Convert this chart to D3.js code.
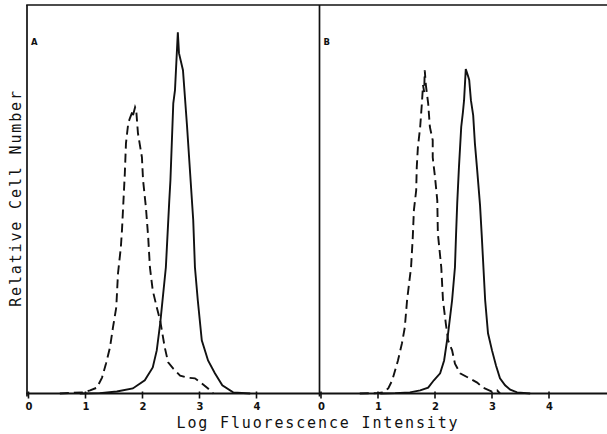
<!DOCTYPE html>
<html>
<head>
<meta charset="utf-8">
<script src="https://cdn.jsdelivr.net/npm/d3@7"></script>
<style>
  body { margin: 0; background: #fff; }
  svg { display: block; }
  .axis-label { font-family: 'DejaVu Sans Mono', monospace; font-size: 15px; letter-spacing: 1.85px; fill: #111; }
  .tick-label { font-family: 'DejaVu Sans', sans-serif; font-size: 10px; font-weight: bold; fill: #111; }
  .panel-label { font-family: 'DejaVu Sans', sans-serif; font-size: 8.5px; font-weight: bold; fill: #111; }
</style>
</head>
<body>
<svg width="607" height="434"></svg>
<script>
// log fluorescence (decades) vs relative cell number (% of full scale)
const panelA_control = [
  [0.55,0],[0.96,0.3],[1.08,0.8],[1.20,1.5],[1.29,4.1],[1.36,7.7],[1.43,11.9],[1.48,16.8],
  [1.54,22.2],[1.57,30.9],[1.62,37.6],[1.64,42.0],[1.66,47.9],[1.69,56.7],[1.71,64.4],
  [1.75,69.6],[1.78,70.9],[1.82,72.4],[1.83,71.4],[1.87,73.7],[1.89,72.9],[1.92,67.0],
  [1.99,60.8],[2.01,54.9],[2.06,47.9],[2.10,40.2],[2.13,32.5],[2.18,26.5],[2.25,22.2],
  [2.31,18.8],[2.39,11.9],[2.45,8.0],[2.54,6.4],[2.66,4.6],[2.78,4.1],[2.92,3.9],
  [3.04,2.6],[3.15,1.3],[3.24,0]
];
const panelA_stained = [
  [0.90,0],[1.25,0.1],[1.55,0.5],[1.83,1.3],[2.04,3.4],[2.18,6.7],[2.25,11.1],[2.31,18.0],
  [2.41,32.5],[2.47,49.7],[2.49,54.9],[2.54,74.7],[2.57,78.1],[2.62,93.0],[2.64,87.6],
  [2.71,83.2],[2.78,69.1],[2.89,44.6],[2.92,32.5],[2.97,24.0],[3.04,13.7],[3.15,8.5],
  [3.27,5.2],[3.40,2.1],[3.59,0.3],[3.89,0]
];
const panelB_control = [
  [0.68,0],[0.98,0.1],[1.09,0.3],[1.18,1.3],[1.25,3.4],[1.35,8.5],[1.42,12.9],[1.47,17.0],
  [1.51,24.0],[1.58,32.5],[1.61,40.2],[1.63,47.2],[1.67,52.3],[1.68,58.2],[1.70,63.4],
  [1.74,68.6],[1.77,74.7],[1.79,79.4],[1.81,77.6],[1.82,83.2],[1.84,79.4],[1.88,74.7],
  [1.91,68.6],[1.96,65.2],[1.96,60.8],[2.00,55.7],[2.04,49.7],[2.05,41.2],[2.11,32.5],
  [2.14,24.0],[2.19,18.0],[2.23,13.7],[2.30,11.1],[2.35,7.7],[2.44,5.2],[2.58,4.1],
  [2.74,2.8],[2.84,1.5],[3.00,0.5],[3.09,0.8],[3.14,0]
];
const panelB_stained = [
  [1.04,0],[1.30,0.1],[1.56,0.3],[1.74,0.8],[1.88,1.5],[1.98,3.4],[2.09,5.2],[2.16,8.5],
  [2.23,15.5],[2.30,24.0],[2.35,32.5],[2.37,41.2],[2.39,49.0],[2.42,58.2],[2.46,68.6],
  [2.49,72.4],[2.51,75.5],[2.54,83.5],[2.58,81.7],[2.60,80.7],[2.63,75.5],[2.67,71.6],
  [2.70,64.4],[2.74,57.5],[2.79,48.5],[2.82,40.7],[2.88,24.0],[2.93,15.5],[3.00,11.1],
  [3.07,7.2],[3.14,3.9],[3.23,2.1],[3.32,1.0],[3.44,0.3],[3.67,0]
];
const tickValues = [0, 1, 2, 3, 4];
const panelNames = ['A', 'B'];

const svg = d3.select('svg');
const width = +svg.attr('width');
const height = +svg.attr('height');

const plotTop = 5, baseY = 393.5;
const decade = 57;
const panelLeft = [28.5, 321];
const domainMax = 5.11;

const yScale = d3.scaleLinear().domain([0, 100]).range([baseY, plotTop]);

const panels = [
  {name: panelNames[0], control: panelA_control, stained: panelA_stained},
  {name: panelNames[1], control: panelB_control, stained: panelB_stained}
];

panels.forEach((p, i) => {
  const x0 = panelLeft[i];
  const xScale = d3.scaleLinear().domain([0, domainMax]).range([x0, x0 + domainMax * decade]);
  const line = d3.line().x(d => xScale(d[0])).y(d => yScale(d[1]));

  const g = svg.append('g');

  // left edge of panel
  g.append('line')
    .attr('x1', x0 - 1.5).attr('x2', x0 - 1.5)
    .attr('y1', plotTop).attr('y2', baseY + 3)
    .attr('stroke', '#111').attr('stroke-width', 1.7);

  g.append('path').datum(p.control)
    .attr('d', line)
    .attr('fill', 'none').attr('stroke', '#111')
    .attr('stroke-width', 1.9)
    .attr('stroke-dasharray', '9,5');

  g.append('path').datum(p.stained)
    .attr('d', line)
    .attr('fill', 'none').attr('stroke', '#111')
    .attr('stroke-width', 1.9);

  g.selectAll('.tick').data(tickValues)
    .enter().append('line')
      .attr('x1', d => xScale(d)).attr('x2', d => xScale(d))
      .attr('y1', baseY - 2).attr('y2', baseY + 5)
      .attr('stroke', '#111').attr('stroke-width', 1.6);

  g.selectAll('.tick-label').data(tickValues)
    .enter().append('text')
      .attr('class', 'tick-label')
      .attr('x', d => xScale(d) + 0.5)
      .attr('y', baseY + 16)
      .attr('text-anchor', 'middle')
      .text(d => d);

  g.append('text')
    .attr('class', 'panel-label')
    .attr('x', x0 + 2.5)
    .attr('y', 45)
    .text(p.name);
});

// frame top and baseline
svg.append('line')
  .attr('x1', panelLeft[0] - 2.3).attr('x2', width)
  .attr('y1', plotTop).attr('y2', plotTop)
  .attr('stroke', '#111').attr('stroke-width', 1.7);

svg.append('line')
  .attr('x1', panelLeft[0] - 2.3).attr('x2', width)
  .attr('y1', baseY).attr('y2', baseY)
  .attr('stroke', '#111').attr('stroke-width', 2);

svg.append('text')
  .attr('class', 'axis-label')
  .attr('x', 318)
  .attr('y', 428)
  .attr('text-anchor', 'middle')
  .text('Log Fluorescence Intensity');

svg.append('text')
  .attr('class', 'axis-label')
  .attr('transform', 'translate(21,198) rotate(-90)')
  .attr('text-anchor', 'middle')
  .text('Relative Cell Number');
</script>
</body>
</html>
